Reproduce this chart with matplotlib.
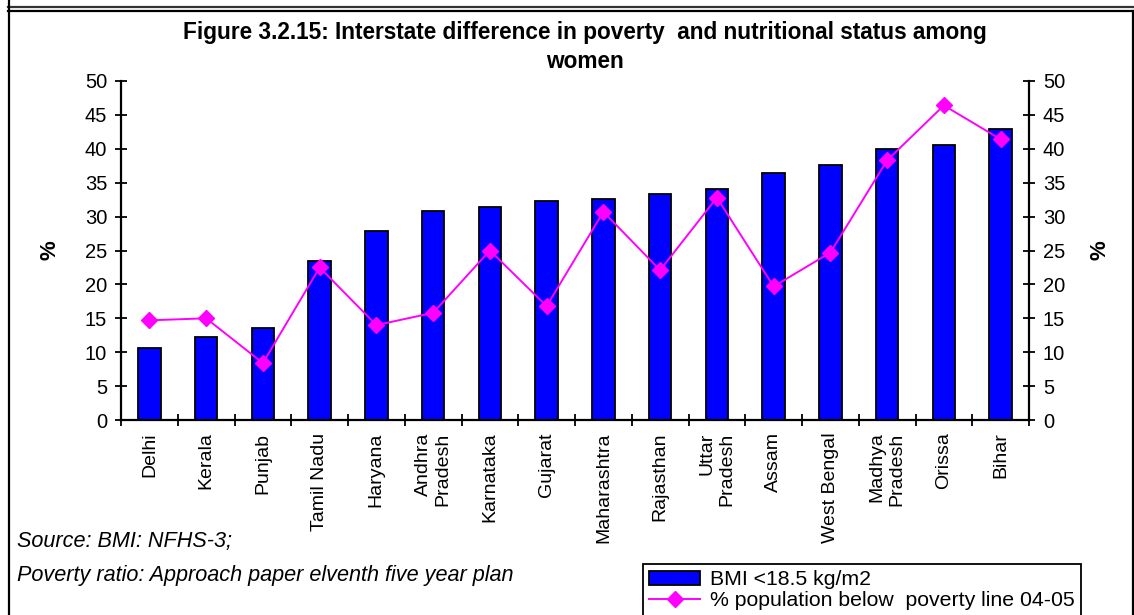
import matplotlib
matplotlib.use("Agg")
import matplotlib.pyplot as plt
from matplotlib.lines import Line2D
import numpy as np

plt.rcParams['font.family'] = ['Liberation Sans', 'DejaVu Sans']

states = ["Delhi", "Kerala", "Punjab", "Tamil Nadu", "Haryana", "Andhra\nPradesh",
          "Karnataka", "Gujarat", "Maharashtra", "Rajasthan", "Uttar\nPradesh",
          "Assam", "West Bengal", "Madhya\nPradesh", "Orissa", "Bihar"]
bmi_low = [10.6, 12.3, 13.5, 23.5, 27.9, 30.8, 31.4, 32.3,
           32.6, 33.4, 34.1, 36.4, 37.6, 40.0, 40.5, 42.9]
poverty = [14.7, 15.0, 8.4, 22.5, 14.0, 15.8, 25.0, 16.8,
           30.7, 22.1, 32.8, 19.7, 24.7, 38.3, 46.4, 41.4]
yticks = list(range(0, 55, 5))

W, H = 1134, 615
fig = plt.figure(figsize=(W / 100, H / 100), dpi=100)

# frame lines around the chart block
def hline(y, lw=1.6, color="black", x0=8, x1=W):
    fig.add_artist(Line2D([x0 / W, x1 / W], [1 - y / H, 1 - y / H], lw=lw, color=color))

def vline(x, y0=0, y1=H, lw=1.6, color="black"):
    fig.add_artist(Line2D([x / W, x / W], [1 - y0 / H, 1 - y1 / H], lw=lw, color=color))

hline(7, lw=1.6, color="#333333")
hline(10.5, lw=1.6)
vline(8.5)
vline(1132.5, y0=10.5)

ax = fig.add_axes([121 / W, 1 - 420 / H, (1029 - 121) / W, (420 - 81) / H])
x = np.arange(len(states))
bars = ax.bar(x, bmi_low, width=0.4, color="#0000FF", edgecolor="black",
              linewidth=1.3, label="BMI <18.5 kg/m2", zorder=2)
line, = ax.plot(x, poverty, color="#FF00FF", lw=1.4, marker="D", markersize=8.5,
                markeredgecolor="#FF00FF", markerfacecolor="#FF00FF",
                label="% population below  poverty line 04-05", zorder=3)

ax.set_xlim(-0.5, len(states) - 0.5)
ax.set_ylim(0, 50)
ax.set_yticks(yticks)
ax.tick_params(axis="y", which="both", left=True, right=True, labelleft=True,
               labelright=True, direction="inout", length=8, width=1.3,
               labelsize=14.5, pad=6)

# category boundaries as major ticks, names at centres
ax.set_xticks(np.arange(-0.5, len(states), 1.0))
ax.set_xticklabels([])
ax.set_xticks(x, minor=True)
ax.set_xticklabels(states, minor=True, rotation=90, fontsize=14,
                   va="top", ha="center", multialignment="right")
ax.tick_params(axis="x", which="major", direction="inout", length=8, width=1.3)
ax.tick_params(axis="x", which="minor", length=0, pad=9)

for s in ["left", "right", "bottom"]:
    ax.spines[s].set_linewidth(1.6)
ax.spines["top"].set_visible(False)

fig.text(50 / W, 1 - 250 / H, "%", rotation=90, fontsize=16, fontweight="bold",
         ha="center", va="center")
fig.text(1100 / W, 1 - 250 / H, "%", rotation=90, fontsize=16, fontweight="bold",
         ha="center", va="center")

fig.text(585 / W, 1 - 33 / H,
         "Figure 3.2.15: Interstate difference in poverty  and nutritional status among",
         fontsize=16.3, fontweight="bold", ha="center", va="center")
fig.text(585 / W, 1 - 61 / H, "women", fontsize=16.3, fontweight="bold",
         ha="center", va="center")

fig.text(17 / W, 1 - 542 / H, "Source: BMI: NFHS-3;", fontsize=15.6,
         style="italic", ha="left", va="center")
fig.text(17 / W, 1 - 575 / H, "Poverty ratio: Approach paper elventh five year plan",
         fontsize=15.6, style="italic", ha="left", va="center")

leg = fig.legend(handles=[bars, line], loc="upper left",
                 bbox_to_anchor=(643 / W, 1 - 564 / H), fontsize=15.3,
                 frameon=True, fancybox=False, framealpha=1, edgecolor="black",
                 handlelength=2.4, handleheight=0.6, handletextpad=0.45,
                 labelspacing=0.1, borderpad=0.3, borderaxespad=0)
leg.get_frame().set_linewidth(1.3)

fig.savefig("out.png", dpi=100)
